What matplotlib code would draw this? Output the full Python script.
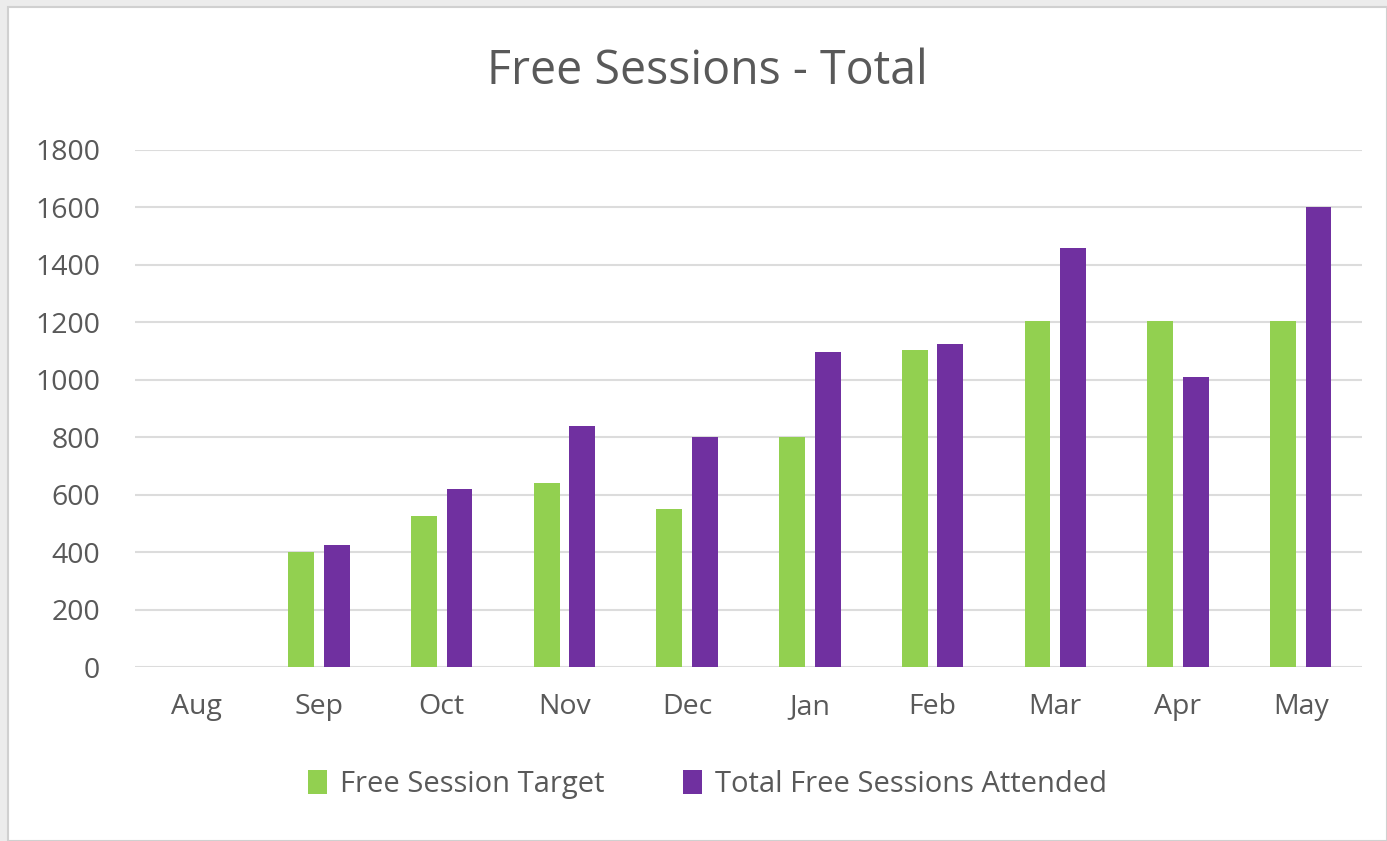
import numpy as np
import matplotlib.pyplot as plt
from matplotlib.patches import Rectangle

# data
months = ['Aug', 'Sep', 'Oct', 'Nov', 'Dec', 'Jan', 'Feb', 'Mar', 'Apr', 'May']
target = [0, 400, 525, 640, 550, 800, 1105, 1205, 1205, 1205]
attended = [0, 425, 620, 840, 800, 1095, 1125, 1460, 1010, 1600]

green = '#92d050'
purple = '#7030a0'
txt = '#595959'

plt.rcParams['font.family'] = ['Open Sans', 'DejaVu Sans']

fig = plt.figure(figsize=(13.87, 8.41), dpi=100, facecolor='#ececec')
# white chart area with thin grey border
fig.patches.append(Rectangle((8/1387, 0), 1 - 8/1387, 1 - 7/841, transform=fig.transFigure,
                             facecolor='white', edgecolor='#d0d0d0', linewidth=1.5, zorder=-10))

ax = fig.add_axes([135/1387, 1 - 667/841, (1362-135)/1387, (667-150)/841])
ax.set_facecolor('white')

x = np.arange(len(months))
w = 0.21
ax.bar(x - 0.145, target, w, color=green, label='Free Session Target', zorder=3)
ax.bar(x + 0.145, attended, w, color=purple, label='Total Free Sessions Attended', zorder=3)

ax.set_xlim(-0.5, len(months) - 0.5)
ax.set_ylim(0, 1800)
ax.set_yticks(range(0, 1801, 200))
ax.set_xticks(x)
ax.set_xticklabels(months)
ax.yaxis.grid(True, color='#dcdcdc', linewidth=1.5, zorder=0)
ax.tick_params(length=0, labelsize=20.5, colors=txt)
ax.tick_params(axis='x', pad=19)
ax.tick_params(axis='y', pad=25)
for s in ax.spines.values():
    s.set_visible(False)

fig.text(0.51, 0.915, 'Free Sessions - Total', ha='center', va='center', fontsize=33.5, color=txt)

fig.legend(loc='center', bbox_to_anchor=(0.51, 0.067), ncol=2, frameon=False, fontsize=21,
           labelcolor=txt, handlelength=0.65, handleheight=0.85, handletextpad=0.45, columnspacing=2.7)

fig.savefig('out.png', dpi=100, facecolor=fig.get_facecolor())
